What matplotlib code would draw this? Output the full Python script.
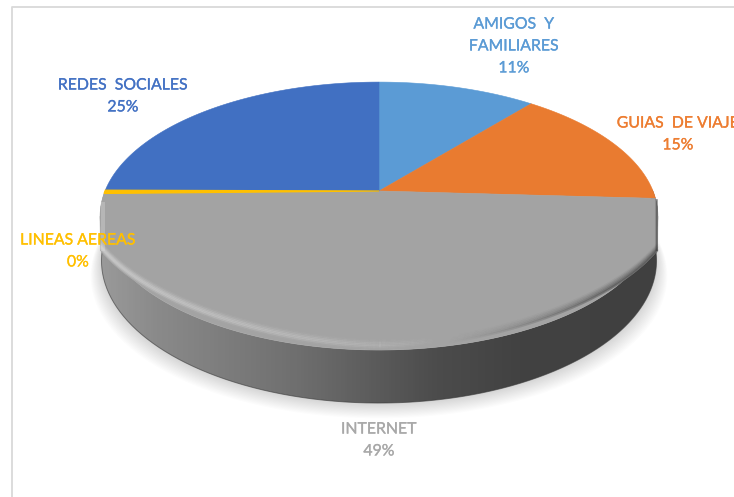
import numpy as np
import matplotlib
matplotlib.use("Agg")
import matplotlib.pyplot as plt
import matplotlib.patheffects as pe
from matplotlib.collections import LineCollection
from matplotlib.colors import LinearSegmentedColormap
from matplotlib.patches import Polygon

plt.rcParams['font.family'] = ['Lato', 'DejaVu Sans']

categories = ['AMIGOS  Y\nFAMILIARES', 'GUIAS  DE VIAJE', 'INTERNET', 'LINEAS AEREAS', 'REDES  SOCIALES']
values = [11, 15, 49, 0.4, 25]
colors = ['#5b9bd5', '#e97b30', '#a3a3a3', '#ffc000', '#4170c2']
label_colors = ['#5b9bd5', '#ed7d31', '#a8a8a8', '#ffc000', '#4472c4']
label_pos = [(514, 46.5), (678, 134.5), (379, 440.5), (78, 251.5), (123, 96.5)]

# perspective of the disc, in pixels
cx, cy = 379, 191
R, Ry, k = 274, 129.3, 0.187
depth = 53
half_width = 278.5


def rim(t):
    w = 1 + k * np.sin(t)
    return cx + R * np.cos(t) / w, cy - Ry * np.sin(t) / w


def lower_rim(t):
    w = 1 + k * np.sin(t)
    x, y = rim(t)
    return cx + (x - cx) * 0.995, y + depth * (1 - k) / w


def front_edge(x):
    # rounded lip between top face and side wall
    u = np.abs(x - cx) / 292
    return cy + 30 + 128 * (1 - u ** 1.75) ** 0.58


def bevel(alpha, grey, offsets):
    # stack of offset lines along the lip, alpha varies along x
    for d, strength in offsets:
        pts = np.column_stack([lip_x, lip_y - d]).reshape(-1, 1, 2)
        segs = np.concatenate([pts[:-1], pts[1:]], axis=1)
        rgba = np.full((len(segs), 4), grey)
        rgba[:, 3] = strength * alpha[:-1]
        ax.add_collection(LineCollection(segs, colors=rgba, linewidths=1.8, zorder=6))


fig = plt.figure(figsize=(7.34, 4.97), dpi=100)
ax = fig.add_axes([0, 0, 1, 1])
ax.set_xlim(0, 734)
ax.set_ylim(497, 0)
ax.axis('off')

# sheet border
ax.plot([734, 12, 12], [6.5, 6.5, 497], color='#d9d9d9', lw=1.3, zorder=1)

front = np.linspace(0.03, -np.pi - 0.03, 300)
xa, ya = rim(front)
xb, yb = lower_rim(front)
wall_xy = np.column_stack([np.r_[xa, xb[::-1]], np.r_[ya, yb[::-1]]])

# soft shadow under the disc
for i in range(14):
    grow = 1 + i * 0.003
    shadow = np.column_stack([cx + (xb - cx) * grow, yb + i * 1.1 + 1])
    shadow = np.vstack([np.column_stack([xa, ya]), shadow[::-1]])
    ax.add_patch(Polygon(shadow, closed=True, fc='#000000', ec='none', alpha=0.011, zorder=2))

# side wall with horizontal shading
wall_cmap = LinearSegmentedColormap.from_list('wall', [
    (0.0, '#9a9a9a'), (0.1, '#8a8a8a'), (0.35, '#6f6f6f'),
    (0.6, '#4c4c4c'), (0.75, '#424242'), (1.0, '#404040')])
grad = np.linspace(0, 1, 560).reshape(1, -1)
im = ax.imshow(grad, cmap=wall_cmap, extent=(100, 660, 410, 190), aspect='auto', zorder=3)
ax.set_xlim(0, 734)
ax.set_ylim(497, 0)
wall = Polygon(wall_xy, closed=True, fc='none', ec='none', transform=ax.transData)
ax.add_patch(wall)
im.set_clip_path(wall)

# thin dark line along the bottom of the wall
ax.plot(xb, yb, color='#3a3a3a', lw=0.7, alpha=0.6, zorder=4)

# slices, clockwise from the top
total = sum(values)
start = np.pi / 2
for val, col in zip(values, colors):
    sweep = 2 * np.pi * val / total
    t = np.linspace(start, start - sweep, max(int(val * 8), 8))
    x, y = rim(t)
    xy = np.column_stack([np.r_[cx, x], np.r_[cy, y]])
    thin = val < 1
    ax.add_patch(Polygon(xy, closed=True, fc=col, ec=col, lw=0.9 if thin else 0.4, zorder=5.5 if thin else 5))
    start -= sweep

# top face runs on past the rim down to the lip
lip_x = np.linspace(cx - half_width, cx + half_width, 500)
lip_y = front_edge(lip_x)
tr = rim(np.array([-0.19, -np.pi + 0.19]))
face_xy = np.column_stack([np.r_[lip_x, tr[0]], np.r_[lip_y, tr[1]]])
ax.add_patch(Polygon(face_xy, closed=True, fc=colors[2], ec=colors[2], lw=0.5, zorder=5))

# bevel: light on the left part of the lip, dark on the right
s = (lip_x - lip_x[0]) / (lip_x[-1] - lip_x[0])
bevel(np.clip(1.0 - s / 0.6, 0, 1) ** 0.6, 0.88,
      [(1.0, 0.10), (2.5, 0.30), (4, 0.38), (5.5, 0.30), (7, 0.18), (8.5, 0.08)])
bevel(np.clip((s - 0.62) / 0.3, 0, 1) ** 1.3, 0.22,
      [(0.5, 0.45), (2, 0.30), (3.5, 0.20), (5, 0.12), (6.5, 0.06)])

# rounded shoulders down both sides of the face
side_y = np.linspace(203, lip_y[0], 40)
ax.plot(np.full(40, cx - half_width + 1.5), side_y, color='#e4e4e4', lw=1.5, alpha=0.3, zorder=6)
ax.plot(np.full(40, cx - half_width + 3), side_y, color='#e4e4e4', lw=1.5, alpha=0.3, zorder=6)
side_y = np.linspace(200, lip_y[-1], 40)
ax.plot(np.full(40, cx + half_width - 0.7), side_y, color='#3c3c3c', lw=1.2, alpha=0.55, zorder=6)
ax.plot(np.full(40, cx + half_width - 2), side_y, color='#3c3c3c', lw=1.5, alpha=0.22, zorder=6)

for name, val, col, pos in zip(categories, values, label_colors, label_pos):
    label = f'{name}\n{val / total * 100:.0f}%'
    ax.text(pos[0], pos[1], label, color=col, ha='center', va='center', fontsize=11.4,
            linespacing=1.72, zorder=8, clip_on=True,
            path_effects=[pe.withStroke(linewidth=0.2, foreground=col)])

fig.savefig('out.png', dpi=100)
